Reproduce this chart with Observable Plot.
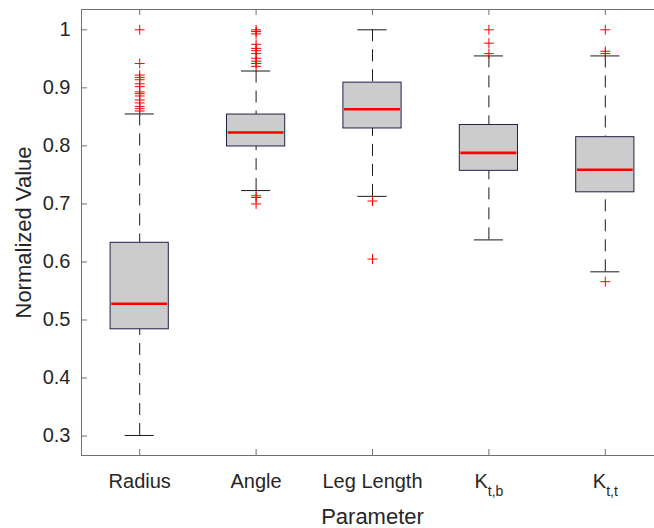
<!DOCTYPE html>
<html>
<head>
<meta charset="utf-8">
<script src="https://cdn.jsdelivr.net/npm/d3@7"></script>
<script src="https://cdn.jsdelivr.net/npm/@observablehq/plot@0.6"></script>
<style>
  html, body { margin: 0; padding: 0; background: #fff; }
  #chart svg { display: block; }
</style>
</head>
<body>
<div id="chart"></div>
<script>
// ---- data ----
const categories  = ["Radius", "Angle", "Leg Length", "K_t,b", "K_t,t"];
const q1          = [0.484, 0.799, 0.830, 0.757, 0.720];
const medians     = [0.528, 0.823, 0.863, 0.788, 0.759];
const q3          = [0.633, 0.854, 0.909, 0.836, 0.815];
const whiskerLow  = [0.301, 0.723, 0.713, 0.638, 0.583];
const whiskerHigh = [0.855, 0.929, 1.000, 0.955, 0.955];
const outliersRadius = [1.000, 0.942, 0.922, 0.918, 0.914, 0.907, 0.902, 0.893, 0.890, 0.886, 0.879, 0.874, 0.868, 0.864, 0.860];
const outliersAngle  = [1.000, 0.997, 0.993, 0.975, 0.968, 0.964, 0.959, 0.951, 0.946, 0.942, 0.937, 0.714, 0.711, 0.700];
const outliersLeg    = [0.705, 0.605];
const outliersKtb    = [1.000, 0.977, 0.959];
const outliersKtt    = [1.000, 0.963, 0.959, 0.566];
const yTicks = [0.3, 0.4, 0.5, 0.6, 0.7, 0.8, 0.9, 1.0];
const xTitle = "Parameter";
const yTitle = "Normalized Value";

// ---- tables built from the arrays ----
const xTicks = categories.map((_, i) => i + 1);
const xDomain = [0.5, categories.length + 0.5];
const yDomain = [0.2665, 1.035];
const boxes = categories.map((c, i) => ({
  pos: i + 1, name: c, q1: q1[i], median: medians[i], q3: q3[i],
  lo: whiskerLow[i], hi: whiskerHigh[i]
}));
const outlierLists = [outliersRadius, outliersAngle, outliersLeg, outliersKtb, outliersKtt];
const outlierRows = outlierLists.flatMap((vals, i) => vals.map(v => ({pos: i + 1, value: v})));

const plusSymbol = {
  draw(ctx, size) {
    const r = Math.sqrt(size / Math.PI);
    ctx.moveTo(-r, 0); ctx.lineTo(r, 0);
    ctx.moveTo(0, -r); ctx.lineTo(0, r);
  }
};

const axisColor = "#707070";
const boxW = 0.25, capW = 0.125, medW = 0.24;

const chart = Plot.plot({
  width: 654,
  height: 528,
  marginLeft: 81,
  marginRight: 0,
  marginTop: 9,
  marginBottom: 73,
  style: {
    fontFamily: "'Liberation Sans', Arial, Helvetica, sans-serif",
    fontSize: "20px",
    color: "#262626",
    background: "#ffffff"
  },
  x: {
    type: "linear",
    domain: xDomain,
    range: [81, 663],
    ticks: xTicks,
    tickFormat: d => categories[d - 1],
    tickSize: 0,
    tickPadding: 18,
    label: null
  },
  y: {
    domain: yDomain,
    ticks: yTicks,
    tickFormat: d => String(+d.toFixed(1)),
    tickSize: 0,
    tickPadding: 11,
    label: null
  },
  marks: [
    // whiskers (dashed)
    Plot.ruleX(boxes, {x: "pos", y1: "hi", y2: "q3", stroke: "#1a1a1a", strokeWidth: 1, strokeDasharray: "12,8"}),
    Plot.ruleX(boxes, {x: "pos", y1: "lo", y2: "q1", stroke: "#1a1a1a", strokeWidth: 1, strokeDasharray: "12,8"}),
    // caps
    Plot.ruleY(boxes, {y: "hi", x1: d => d.pos - capW, x2: d => d.pos + capW, stroke: "#1a1a1a", strokeWidth: 1}),
    Plot.ruleY(boxes, {y: "lo", x1: d => d.pos - capW, x2: d => d.pos + capW, stroke: "#1a1a1a", strokeWidth: 1}),
    // boxes
    Plot.rect(boxes, {x1: d => d.pos - boxW, x2: d => d.pos + boxW, y1: "q1", y2: "q3", fill: "#cccccc", stroke: "#20204a", strokeWidth: 1}),
    // medians
    Plot.ruleY(boxes, {y: "median", x1: d => d.pos - medW, x2: d => d.pos + medW, stroke: "#ff0000", strokeWidth: 2.6}),
    // outliers
    Plot.dot(outlierRows, {x: "pos", y: "value", symbol: plusSymbol, r: 5, stroke: "#ff0000", fill: "none", strokeWidth: 1}),
    // axes frame (left, bottom, top)
    Plot.ruleY(yDomain, {stroke: axisColor, strokeWidth: 1}),
    Plot.ruleX([xDomain[0]], {stroke: axisColor, strokeWidth: 1}),
    // inward ticks
    Plot.ruleY(yTicks, {x1: xDomain[0], x2: xDomain[0], insetRight: -6, stroke: axisColor, strokeWidth: 1}),
    Plot.ruleX(xTicks, {y1: yDomain[0], y2: yDomain[0], insetBottom: 6, stroke: axisColor, strokeWidth: 1}),
    Plot.ruleX(xTicks, {y1: yDomain[1], y2: yDomain[1], insetTop: 6, stroke: axisColor, strokeWidth: 1}),
    // axis titles
    Plot.text([xTitle], {x: (xDomain[0] + xDomain[1]) / 2, frameAnchor: "bottom", text: d => d, dy: 61, textAnchor: "middle", lineAnchor: "middle", fontSize: 22, fill: "#262626"}),
    Plot.text([yTitle], {frameAnchor: "left", text: d => d, dx: -58, rotate: -90, textAnchor: "middle", lineAnchor: "middle", fontSize: 22, fill: "#262626"})
  ]
});

// subscripts for K_t,b and K_t,t tick labels
chart.querySelectorAll("text").forEach(t => {
  const m = t.textContent.match(/^([A-Za-z]+)_(.+)$/);
  if (m) {
    t.textContent = "";
    const ns = "http://www.w3.org/2000/svg";
    const main = document.createElementNS(ns, "tspan");
    main.textContent = m[1];
    const sub = document.createElementNS(ns, "tspan");
    sub.setAttribute("font-size", "14px");
    sub.setAttribute("dy", "8");
    sub.textContent = m[2];
    t.appendChild(main);
    t.appendChild(sub);
  }
});

document.getElementById("chart").appendChild(chart);
</script>
</body>
</html>
